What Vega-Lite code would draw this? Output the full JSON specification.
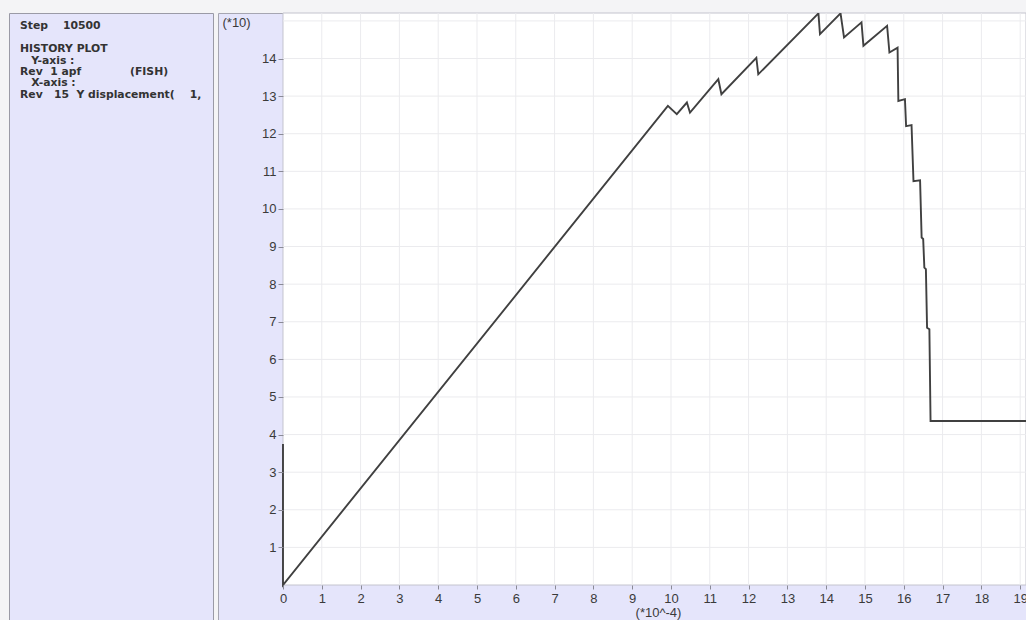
{
  "$schema": "https://vega.github.io/schema/vega-lite/v6.json",
  "background": "#f4f4f6",
  "padding": {"left": 8, "top": 12, "right": 0, "bottom": 0},
  "spacing": 3,
  "datasets": {
    "panel": [
      {"line": 0, "text": "Step\u00a0\u00a0\u00a0\u00a010500"},
      {"line": 2, "text": "HISTORY PLOT"},
      {"line": 3, "text": "\u200b\u00a0\u00a0\u00a0Y-axis :"},
      {"line": 4, "text": "Rev\u00a0\u00a01\u00a0apf\u00a0\u00a0\u00a0\u00a0\u00a0\u00a0\u00a0\u00a0\u00a0\u00a0\u00a0\u00a0\u00a0(FISH)"},
      {"line": 5, "text": "\u200b\u00a0\u00a0\u00a0X-axis :"},
      {"line": 6, "text": "Rev\u00a0\u00a0\u00a015\u00a0\u00a0Y\u00a0displacement(\u00a0\u00a0\u00a0\u00a01,"}
    ],
    "curve": [
      {"i": 0, "x": 0, "y": 3.75},
      {"i": 1, "x": 0, "y": 0},
      {"i": 2, "x": 9.92, "y": 12.74},
      {"i": 3, "x": 10.15, "y": 12.52},
      {"i": 4, "x": 10.41, "y": 12.83},
      {"i": 5, "x": 10.49, "y": 12.56},
      {"i": 6, "x": 11.22, "y": 13.45},
      {"i": 7, "x": 11.3, "y": 13.05},
      {"i": 8, "x": 12.2, "y": 14.02},
      {"i": 9, "x": 12.25, "y": 13.58},
      {"i": 10, "x": 13.8, "y": 15.2},
      {"i": 11, "x": 13.84, "y": 14.65},
      {"i": 12, "x": 14.37, "y": 15.2},
      {"i": 13, "x": 14.46, "y": 14.56},
      {"i": 14, "x": 14.91, "y": 14.96},
      {"i": 15, "x": 14.96, "y": 14.34},
      {"i": 16, "x": 15.57, "y": 14.87},
      {"i": 17, "x": 15.63, "y": 14.16},
      {"i": 18, "x": 15.84, "y": 14.29},
      {"i": 19, "x": 15.86, "y": 12.87},
      {"i": 20, "x": 16.03, "y": 12.92},
      {"i": 21, "x": 16.06, "y": 12.2},
      {"i": 22, "x": 16.2, "y": 12.23},
      {"i": 23, "x": 16.25, "y": 10.74},
      {"i": 24, "x": 16.42, "y": 10.76},
      {"i": 25, "x": 16.46, "y": 9.24},
      {"i": 26, "x": 16.5, "y": 9.2},
      {"i": 27, "x": 16.53, "y": 8.44},
      {"i": 28, "x": 16.57, "y": 8.4},
      {"i": 29, "x": 16.6, "y": 6.84},
      {"i": 30, "x": 16.66, "y": 6.8},
      {"i": 31, "x": 16.69, "y": 4.36},
      {"i": 32, "x": 19.5, "y": 4.36}
    ],
    "xgrid": [{"g": 1}, {"g": 2}, {"g": 3}, {"g": 4}, {"g": 5}, {"g": 6}, {"g": 7}, {"g": 8}, {"g": 9}, {"g": 10}, {"g": 11}, {"g": 12}, {"g": 13}, {"g": 14}, {"g": 15}, {"g": 16}, {"g": 17}, {"g": 18}, {"g": 19}],
    "ygrid": [{"g": 1}, {"g": 2}, {"g": 3}, {"g": 4}, {"g": 5}, {"g": 6}, {"g": 7}, {"g": 8}, {"g": 9}, {"g": 10}, {"g": 11}, {"g": 12}, {"g": 13}, {"g": 14}, {"g": 15}]
  },
  "hconcat": [
    {
      "width": 204,
      "height": 608,
      "view": {"fill": "#e5e5fb", "stroke": "#9a9aa6", "strokeWidth": 1},
      "data": {"name": "panel"},
      "mark": {"type": "text", "align": "left", "baseline": "middle", "font": "DejaVu Sans", "fontSize": 10.8, "fontWeight": "bold", "color": "#333333"},
      "encoding": {
        "x": {"datum": 0, "type": "quantitative", "scale": {"domain": [-11, 193], "nice": false, "zero": false}, "axis": null},
        "y": {"field": "line", "type": "quantitative", "scale": {"domain": [-1.167, 52.17], "nice": false, "zero": false, "reverse": true}, "axis": null},
        "text": {"field": "text"}
      }
    },
    {
      "width": 808,
      "height": 608,
      "view": {"fill": "#e5e5fb", "stroke": "#a6a6b2", "strokeWidth": 1},
      "layer": [
        {
          "data": {"values": [{}]},
          "mark": {"type": "rect", "fill": "white", "stroke": "#c4c4ce", "strokeWidth": 1},
          "encoding": {
            "x": {"datum": 0, "type": "quantitative", "scale": {"domain": [-1.675, 19.15], "nice": false, "zero": false},
              "axis": {
                "values": [0, 1, 2, 3, 4, 5, 6, 7, 8, 9, 10, 11, 12, 13, 14, 15, 16, 17, 18, 19],
                "offset": -36, "grid": false, "domain": false, "zindex": 2,
                "tickSize": 4, "tickColor": "#8a8a96", "labelFlush": false,
                "labelFont": "Liberation Sans", "labelFontSize": 13, "labelColor": "#3a3a3a", "labelPadding": 3,
                "title": "(*10^-4)", "titleFont": "Liberation Sans", "titleFontSize": 13, "titleFontWeight": "normal", "titleColor": "#3a3a3a",
                "titleX": 440, "titleY": 27, "titleAlign": "center", "titleBaseline": "middle"
              }},
            "x2": {"datum": 19.15},
            "y": {"datum": 0, "type": "quantitative", "scale": {"domain": [-0.957, 15.21], "nice": false, "zero": false},
              "axis": {
                "values": [1, 2, 3, 4, 5, 6, 7, 8, 9, 10, 11, 12, 13, 14],
                "offset": -65, "grid": false, "domain": false, "zindex": 2,
                "tickSize": 5, "tickColor": "#8a8a96", "labelFlush": false,
                "labelFont": "Liberation Sans", "labelFontSize": 13, "labelColor": "#3a3a3a", "labelPadding": 2,
                "title": "(*10)", "titleFont": "Liberation Sans", "titleFontSize": 13, "titleFontWeight": "normal", "titleColor": "#3a3a3a",
                "titleAngle": 0, "titleX": -61, "titleY": 9, "titleAlign": "left", "titleBaseline": "middle"
              }},
            "y2": {"datum": 15.21}
          }
        },
        {
          "data": {"name": "xgrid"},
          "mark": {"type": "rule", "color": "#ebebee", "strokeWidth": 1},
          "encoding": {
            "x": {"field": "g", "type": "quantitative", "scale": {"domain": [-1.675, 19.15], "nice": false, "zero": false}},
            "y": {"datum": 0, "type": "quantitative", "scale": {"domain": [-0.957, 15.21], "nice": false, "zero": false}},
            "y2": {"datum": 15.21}
          }
        },
        {
          "data": {"name": "ygrid"},
          "mark": {"type": "rule", "color": "#ebebee", "strokeWidth": 1},
          "encoding": {
            "y": {"field": "g", "type": "quantitative", "scale": {"domain": [-0.957, 15.21], "nice": false, "zero": false}},
            "x": {"datum": 0, "type": "quantitative", "scale": {"domain": [-1.675, 19.15], "nice": false, "zero": false}},
            "x2": {"datum": 19.15}
          }
        },
        {
          "data": {"name": "curve"},
          "mark": {"type": "line", "color": "#404040", "strokeWidth": 1.9, "clip": true},
          "encoding": {
            "x": {"field": "x", "type": "quantitative", "scale": {"domain": [-1.675, 19.15], "nice": false, "zero": false}},
            "y": {"field": "y", "type": "quantitative", "scale": {"domain": [-0.957, 15.21], "nice": false, "zero": false}},
            "order": {"field": "i", "type": "quantitative"}
          }
        }
      ]
    }
  ]
}
